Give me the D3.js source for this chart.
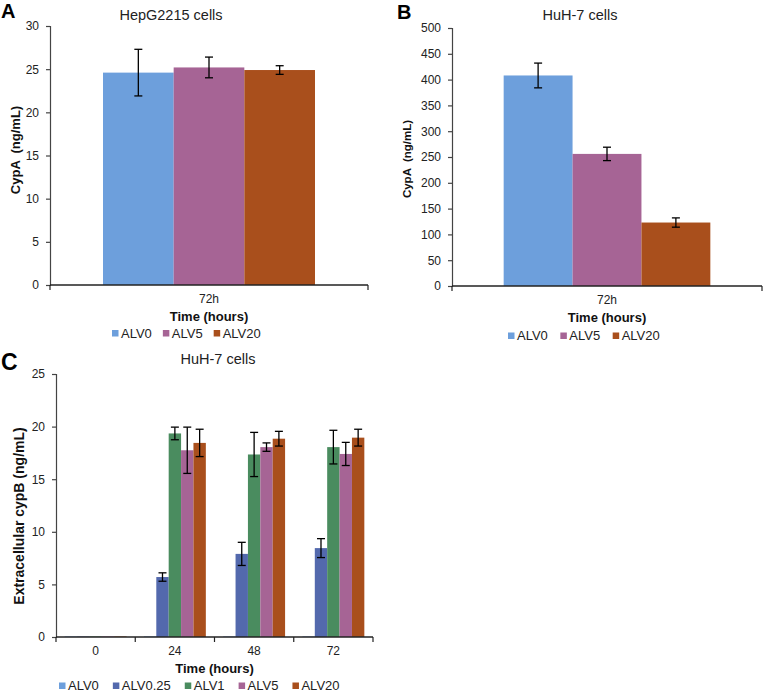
<!DOCTYPE html>
<html><head><meta charset="utf-8">
<script src="https://cdn.jsdelivr.net/npm/d3@7"></script>
<style>body{margin:0;background:#fff}svg{display:block}text{font-family:"Liberation Sans",Arial,sans-serif}</style>
</head><body><svg id="c" width="765" height="693"></svg>
<script>
// ---- Data ----
const seriesAB = ["ALV0", "ALV5", "ALV20"];
const categoriesAB = ["72h"];
const valuesA = [[24.6], [25.2], [24.9]];
const errorsA = [[2.7], [1.2], [0.5]];
const valuesB = [[408], [256], [123]];
const errorsB = [[24], [13], [9]];

const seriesC = ["ALV0", "ALV0.25", "ALV1", "ALV5", "ALV20"];
const categoriesC = ["0", "24", "48", "72"];
const valuesC = [
  [0.05, 0.05, 0.05, 0.05],
  [0.05, 5.7, 7.9, 8.45],
  [0.05, 19.35, 17.35, 18.05],
  [0.05, 17.75, 18.05, 17.4],
  [0.05, 18.45, 18.85, 18.95]
];
const errorsC = [
  [0, 0, 0, 0],
  [0, 0.4, 1.1, 0.9],
  [0, 0.6, 2.1, 1.6],
  [0, 2.2, 0.4, 1.1],
  [0, 1.3, 0.7, 0.8]
];
const ticksA = [0, 5, 10, 15, 20, 25, 30];
const ticksB = [0, 50, 100, 150, 200, 250, 300, 350, 400, 450, 500];
const ticksC = [0, 5, 10, 15, 20, 25];

const colors = {"ALV0": "#6d9fdc", "ALV0.25": "#5369ad", "ALV1": "#4a8c5f", "ALV5": "#a66495", "ALV20": "#a94f1c"};

const svg = d3.select("#c");

function panel(o) {
  const g = svg.append("g");
  const y = d3.scaleLinear().domain([0, d3.max(o.ticks)]).range([o.bottom, o.top]);
  const x = d3.scaleBand().domain(o.categories).range([o.left, o.right]).padding(0);
  const gw = x.bandwidth() / (1 + o.gap);
  const xs = d3.scaleBand().domain(o.series).range([0, gw]).padding(0);
  const off = (x.bandwidth() - gw) / 2;

  // bars
  o.series.forEach((s, si) => {
    o.categories.forEach((c, ci) => {
      const v = o.values[si][ci];
      g.append("rect")
        .attr("x", x(c) + off + xs(s))
        .attr("y", y(v))
        .attr("width", xs.bandwidth())
        .attr("height", y(0) - y(v))
        .attr("fill", colors[s]);
    });
  });
  // error bars
  o.series.forEach((s, si) => {
    o.categories.forEach((c, ci) => {
      const e = o.errors[si][ci];
      if (!e) return;
      const v = o.values[si][ci];
      const cx = x(c) + off + xs(s) + xs.bandwidth() / 2;
      const hw = 4;
      g.append("line").attr("x1", cx).attr("x2", cx).attr("y1", y(v + e)).attr("y2", y(v - e)).attr("stroke", "#000").attr("stroke-width", 1.3);
      [v + e, v - e].forEach(t => g.append("line").attr("x1", cx - hw).attr("x2", cx + hw).attr("y1", y(t)).attr("y2", y(t)).attr("stroke", "#000").attr("stroke-width", 1.3));
    });
  });

  // y axis
  const ya = g.append("g").attr("transform", `translate(${o.left},0)`)
    .call(d3.axisLeft(y).tickValues(o.ticks).tickSize(4).tickPadding(7).tickFormat(d3.format("d")));
  ya.select(".domain").attr("stroke", "#444").attr("stroke-width", 1.2);
  ya.selectAll(".tick line").attr("stroke", "#444").attr("stroke-width", 1.2);
  ya.selectAll("text").attr("font-size", 12).attr("fill", "#222").attr("font-family", "Liberation Sans, Arial, sans-serif");

  // x axis baseline + boundary ticks
  g.append("line").attr("x1", o.left).attr("x2", o.right).attr("y1", o.bottom).attr("y2", o.bottom).attr("stroke", "#222").attr("stroke-width", 1.3);
  const bounds = o.categories.map(c => x(c)).concat([o.right]);
  bounds.forEach(bx => g.append("line").attr("x1", bx).attr("x2", bx).attr("y1", o.bottom).attr("y2", o.bottom + 5).attr("stroke", "#222").attr("stroke-width", 1.2));
  o.categories.forEach(c => g.append("text").attr("x", x(c) + x.bandwidth() / 2).attr("y", o.bottom + 18)
    .attr("text-anchor", "middle").attr("font-size", 12).attr("fill", "#222").text(c));

  // axis titles
  g.append("text").attr("x", (o.left + o.right) / 2).attr("y", o.bottom + 36).attr("text-anchor", "middle")
    .attr("font-size", 13).attr("font-weight", "bold").attr("fill", "#111").text("Time (hours)");
  g.append("text").attr("transform", `translate(${o.ylabX},${o.ylabY}) rotate(-90)`).attr("text-anchor", "middle")
    .style("white-space", "pre")
    .attr("font-size", o.ylabSize).attr("font-weight", "bold").attr("fill", "#111").text(o.ylab);

  // title and letter
  g.append("text").attr("x", o.titleX).attr("y", o.titleY).attr("text-anchor", "middle")
    .attr("font-size", 14.5).attr("font-family", "Open Sans, Liberation Sans, sans-serif").attr("fill", "#222").text(o.title);
  g.append("text").attr("x", o.letterX).attr("y", o.letterY).attr("font-size", o.letterSize).attr("font-weight", "bold").attr("fill", "#000").text(o.letter);

  // legend
  const lg = g.append("g");
  let lx = o.legendX;
  o.series.forEach(s => {
    lg.append("rect").attr("x", lx).attr("y", o.legendY - 7.5).attr("width", 6.5).attr("height", 6.5).attr("fill", colors[s]);
    const t = lg.append("text").attr("x", lx + 9).attr("y", o.legendY).attr("font-size", 13).attr("fill", "#222").text(s);
    lx += 9 + t.node().getComputedTextLength() + o.legendGap;
  });
}

panel({letter: "A", letterX: 1, letterY: 18, letterSize: 20, title: "HepG2215 cells", titleX: 171, titleY: 20,
  categories: categoriesAB, series: seriesAB, values: valuesA, errors: errorsA, ticks: ticksA,
  left: 50, right: 368, top: 26, bottom: 285, gap: 0.5,
  ylab: "CypA  (ng/mL)", ylabX: 19.5, ylabY: 150, ylabSize: 13, legendX: 112, legendY: 337.5, legendGap: 11});

panel({letter: "B", letterX: 397, letterY: 19, letterSize: 20, title: "HuH-7 cells", titleX: 580, titleY: 20,
  categories: categoriesAB, series: seriesAB, values: valuesB, errors: errorsB, ticks: ticksB,
  left: 452, right: 762, top: 28, bottom: 286, gap: 0.5,
  ylab: "CypA  (ng/mL)", ylabX: 411, ylabY: 159, ylabSize: 11.5, legendX: 508, legendY: 340, legendGap: 12.5});

panel({letter: "C", letterX: 1, letterY: 370, letterSize: 23, title: "HuH-7 cells", titleX: 218, titleY: 364,
  categories: categoriesC, series: seriesC, values: valuesC, errors: errorsC, ticks: ticksC,
  left: 56, right: 373, top: 374, bottom: 637, gap: 0.28,
  ylab: "Extracellular cypB (ng/mL)", ylabX: 24, ylabY: 516, ylabSize: 14, legendX: 59, legendY: 690, legendGap: 14});
</script></body></html>
